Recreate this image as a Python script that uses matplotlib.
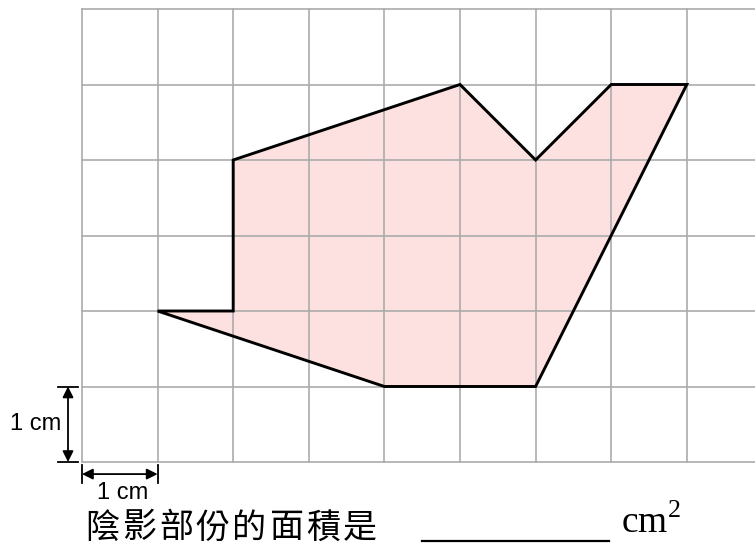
import numpy as np
import matplotlib.pyplot as plt

# polygon vertices in grid units (1 cm squares)
shape_x = [1, 2, 2, 5, 6, 7, 8, 6, 4]
shape_y = [2, 2, 4, 5, 4, 5, 5, 1, 1]
grid_cols = np.arange(0, 9)
grid_rows = np.arange(0, 7)
question = '陰影部份的面積是'
unit_label = '1 cm'

px = 75.6  # pixels per grid unit
fig = plt.figure(figsize=(7.55, 5.46), dpi=100)
ax = fig.add_axes([0, 0, 1, 1])
ax.set_xlim(-82 / px, (755 - 82) / px)
ax.set_ylim((462 - 546) / 75.5, 462 / 75.5)
ax.axis('off')

# grid
for gx in grid_cols:
    ax.plot([gx, gx], [0, 6], color='#ababab', lw=1.2, zorder=1)
for gy in grid_rows:
    ax.plot([0, 9], [gy, gy], color='#ababab', lw=1.2, zorder=1)

# shaded shape
ax.fill(shape_x, shape_y, facecolor='#fde1e1', edgecolor='none', zorder=0)
ax.fill(shape_x, shape_y, facecolor='none', edgecolor='black', lw=2.1,
        joinstyle='miter', zorder=2)

# vertical 1 cm dimension
vx = -0.185
ax.annotate('', xy=(vx, 1), xytext=(vx, 0),
            arrowprops=dict(arrowstyle='<|-|>', color='black', lw=1.3,
                            mutation_scale=16, shrinkA=0, shrinkB=0))
ax.plot([vx - 0.13, vx + 0.13], [1, 1], color='black', lw=1.3)
ax.plot([vx - 0.13, vx + 0.13], [0, 0], color='black', lw=1.3)
ax.text(-46 / px, 0.5, unit_label, fontsize=17, family='Liberation Sans',
        ha='center', va='center')

# horizontal 1 cm dimension
hy = -0.16
ax.annotate('', xy=(1, hy), xytext=(0, hy),
            arrowprops=dict(arrowstyle='<|-|>', color='black', lw=1.3,
                            mutation_scale=16, shrinkA=0, shrinkB=0))
ax.plot([0, 0], [hy - 0.12, hy + 0.12], color='black', lw=1.3)
ax.plot([1, 1], [hy - 0.12, hy + 0.12], color='black', lw=1.3)
ax.text(41 / px, -0.41, unit_label, fontsize=17, family='Liberation Sans',
        ha='center', va='center')

# question line, characters spaced out like the original
for i, ch in enumerate(question):
    ax.text((102.5 - 82 + i * 36.7) / px, -0.874, ch, fontsize=24.5,
            family=['Noto Sans CJK TC', 'DejaVu Sans'],
            ha='center', va='center')
ax.plot([(422 - 82) / px, (609 - 82) / px], [-1.045, -1.045],
        color='black', lw=1.6)
ax.text((621 - 82) / px, -0.94, r'cm$^{\mathregular{2}}$', fontsize=27,
        family='Liberation Serif', ha='left', va='baseline')

fig.savefig('out.png', dpi=100)
